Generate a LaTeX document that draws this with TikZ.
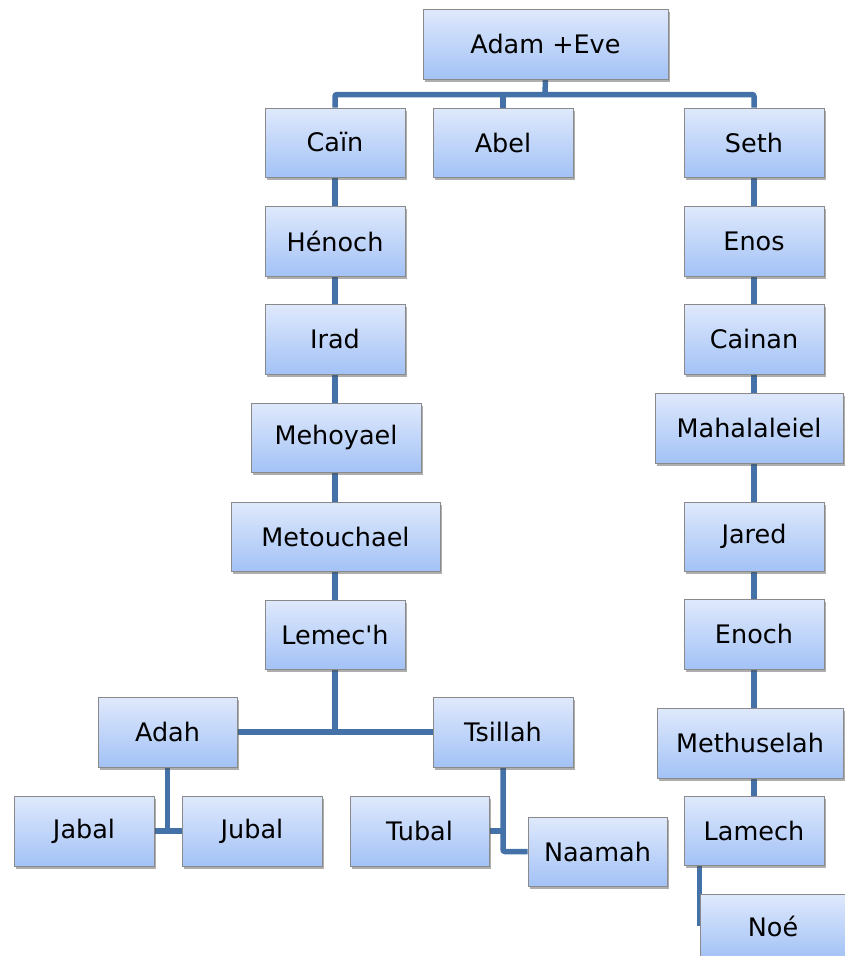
\documentclass[tikz,border=0pt]{standalone}
\usepackage{fontspec}
\newfontfamily\dvs{DejaVu Sans}
\usetikzlibrary{shadows,backgrounds}
\definecolor{boxtop}{RGB}{223,233,252}
\definecolor{boxbot}{RGB}{163,194,246}
\definecolor{boxline}{RGB}{138,138,138}
\definecolor{conn}{RGB}{68,114,168}
\tikzset{
  person/.style={draw=boxline, line width=1pt, top color=boxtop, bottom color=boxbot,
    inner sep=0pt, font=\dvs\fontsize{25.5}{30}\selectfont,
    drop shadow={shadow xshift=2pt, shadow yshift=-3pt, opacity=0.45, fill=black!70}},
  link/.style={draw=conn, line width=5.5pt, rounded corners=2pt}
}
% \pbox{name}{x1}{y1}{x2}{y2}{text}
\newcommand{\pbox}[6]{%
  \pgfmathsetmacro{\pcx}{(#2+#4)/2}%
  \pgfmathsetmacro{\pcy}{(#3+#5)/2}%
  \pgfmathsetmacro{\pw}{#4-#2}%
  \pgfmathsetmacro{\ph}{#5-#3}%
  \node[person, minimum width=\pw pt, minimum height=\ph pt] (#1) at (\pcx,\pcy) {#6};}
\begin{document}
\begin{tikzpicture}[x=1pt,y=-1pt]
\useasboundingbox (0,0) rectangle (844,956);
\coordinate (bar) at (545,94.5);
\coordinate (lc) at (335,0);
\coordinate (rc) at (754,0);
% nodes
\pbox{adam}{423}{9}{668}{79}{Adam +Eve}
\pbox{cain}{265}{108}{405}{177}{Caïn}
\pbox{abel}{433}{108}{573}{177}{Abel}
\pbox{seth}{684}{108}{824}{177}{Seth}
\pbox{henoch}{265}{206}{405}{276}{Hénoch}
\pbox{irad}{265}{304}{405}{374}{Irad}
\pbox{mehoyael}{251}{403}{421}{472}{Mehoyael}
\pbox{metouchael}{231}{502}{440}{571}{Metouchael}
\pbox{lemech}{265}{600}{405}{669}{Lemec'h}
\pbox{adah}{98}{697}{237}{767}{Adah}
\pbox{tsillah}{433}{697}{573}{767}{Tsillah}
\pbox{jabal}{14}{796}{154}{866}{Jabal}
\pbox{jubal}{182}{796}{322}{866}{Jubal}
\pbox{tubal}{350}{796}{489}{866}{Tubal}
\pbox{naamah}{528}{817}{667}{886}{Naamah}
\pbox{enos}{684}{206}{824}{276}{Enos}
\pbox{cainan}{684}{304}{824}{374}{Cainan}
\pbox{mahalaleiel}{655}{393}{843}{463}{Mahalaleiel}
\pbox{jared}{684}{502}{824}{571}{Jared}
\pbox{enoch}{684}{599}{824}{669}{Enoch}
\pbox{methuselah}{657}{708}{843}{778}{Methuselah}
\pbox{lamech}{684}{796}{824}{865}{Lamech}
\pbox{noe}{700}{894}{846}{958}{Noé}
% connectors behind the boxes
\begin{scope}[on background layer]
\draw[link] (adam.south) -- (bar);
\draw[link] (cain.north) |- (bar) -| (seth.north);
\draw[link] (abel.north) -- (abel.north |- bar);
\draw[link] (cain.south) -- (henoch.north);
\draw[link] (henoch.south) -- (irad.north);
\draw[link] (irad.south) -- (lc |- mehoyael.north);
\draw[link] (lc |- mehoyael.south) -- (lc |- metouchael.north);
\draw[link] (lc |- metouchael.south) -- (lemech.north);
\draw[link] (lemech.south) -- (lemech.south |- adah.east);
\draw[link] (adah.east) -- (tsillah.west);
\draw[link] (adah.south) -- (adah.south |- jabal.east);
\draw[link] (jabal.east) -- (jubal.west);
\draw[link] (tsillah.south) |- (naamah.west);
\draw[link] (tubal.east) -- (tubal.east -| tsillah.south);
\draw[link] (seth.south) -- (enos.north);
\draw[link] (enos.south) -- (cainan.north);
\draw[link] (cainan.south) -- (rc |- mahalaleiel.north);
\draw[link] (rc |- mahalaleiel.south) -- (jared.north);
\draw[link] (jared.south) -- (enoch.north);
\draw[link] (enoch.south) -- (rc |- methuselah.north);
\draw[link] (rc |- methuselah.south) -- (lamech.north);
\draw[link] (lamech.south -| noe.west) -- (noe.west);
\end{scope}
\end{tikzpicture}
\end{document}
